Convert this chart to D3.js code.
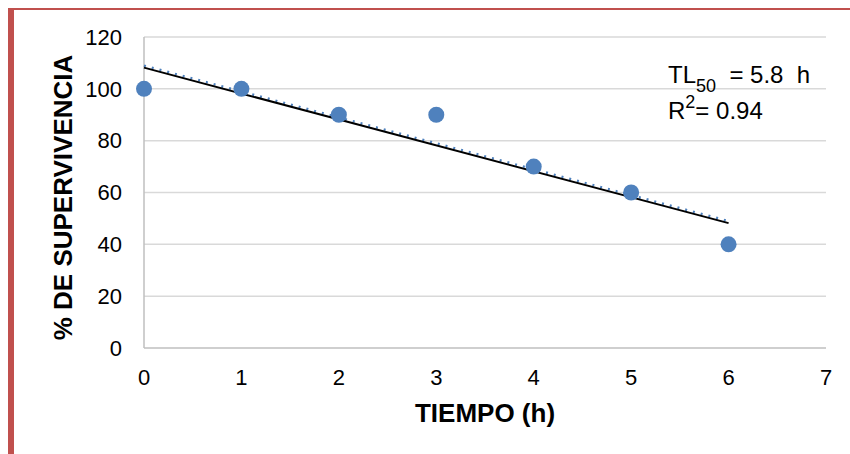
<!DOCTYPE html>
<html>
<head>
<meta charset="utf-8">
<script src="https://cdn.jsdelivr.net/npm/d3@7"></script>
<style>
  body { margin: 0; background: #fff; }
  text { font-family: "Liberation Sans", Arial, sans-serif; fill: #000; white-space: pre; }
</style>
</head>
<body>
<svg width="850" height="454"></svg>
<script>
// data
var tiempo = [0, 1, 2, 3, 4, 5, 6];
var supervivencia = [100, 100, 90, 90, 70, 60, 40];
var yTicks = [0, 20, 40, 60, 80, 100, 120];
var xTicks = [0, 1, 2, 3, 4, 5, 6, 7];
// linear trend (y = -10x + 108.57)
var trendX = [0, 6];
var trendY = [108.57, 48.57];

var margin = {top: 37, right: 24, bottom: 106, left: 144},
    width = 850 - margin.left - margin.right,
    height = 454 - margin.top - margin.bottom;

var svg = d3.select("svg");

// frame (red, top and left)
svg.append("line")
    .attr("x1", 8).attr("x2", 850)
    .attr("y1", 9).attr("y2", 9)
    .attr("stroke", "#c0504d").attr("stroke-width", 2);
svg.append("line")
    .attr("x1", 11).attr("x2", 11)
    .attr("y1", 8).attr("y2", 454)
    .attr("stroke", "#c0504d").attr("stroke-width", 6);

var g = svg.append("g")
    .attr("transform", "translate(" + margin.left + "," + margin.top + ")");

var x = d3.scaleLinear().domain([0, 7]).range([0, width]);
var y = d3.scaleLinear().domain([0, 120]).range([height, 0]);

// horizontal gridlines
g.selectAll(".grid")
    .data(yTicks.filter(function(d) { return d > 0; }))
  .enter().append("line")
    .attr("x1", 0).attr("x2", width)
    .attr("y1", function(d) { return y(d); })
    .attr("y2", function(d) { return y(d); })
    .attr("stroke", "#d9d9d9").attr("stroke-width", 1.5);

// axes lines
g.append("line")
    .attr("x1", 0).attr("x2", 0).attr("y1", 0).attr("y2", height)
    .attr("stroke", "#bfbfbf").attr("stroke-width", 1.5);
g.append("line")
    .attr("x1", 0).attr("x2", width).attr("y1", height).attr("y2", height)
    .attr("stroke", "#bfbfbf").attr("stroke-width", 1.5);

// tick labels
g.selectAll(".ylab")
    .data(yTicks)
  .enter().append("text")
    .attr("x", -22)
    .attr("y", function(d) { return y(d); })
    .attr("dy", "0.35em")
    .attr("text-anchor", "end")
    .style("font-size", "22px")
    .text(function(d) { return d; });

g.selectAll(".xlab")
    .data(xTicks)
  .enter().append("text")
    .attr("x", function(d) { return x(d); })
    .attr("y", height + 29)
    .attr("dy", "0.35em")
    .attr("text-anchor", "middle")
    .style("font-size", "22px")
    .text(function(d) { return d; });

// trend lines
g.append("line")
    .attr("x1", x(trendX[0])).attr("x2", x(trendX[1]))
    .attr("y1", y(trendY[0]) - 1).attr("y2", y(trendY[1]) - 1)
    .attr("stroke", "#4f81bd").attr("stroke-width", 2.5)
    .attr("stroke-dasharray", "2,6");
g.append("line")
    .attr("x1", x(trendX[0])).attr("x2", x(trendX[1]))
    .attr("y1", y(trendY[0]) + 1).attr("y2", y(trendY[1]) + 1)
    .attr("stroke", "#000").attr("stroke-width", 2);

// points
g.selectAll(".pt")
    .data(supervivencia)
  .enter().append("circle")
    .attr("cx", function(d, i) { return x(tiempo[i]); })
    .attr("cy", function(d) { return y(d); })
    .attr("r", 8)
    .attr("fill", "#4f81bd");

// annotation
var ann = g.append("text")
    .attr("x", 524).attr("y", 46)
    .style("font-size", "24px");
ann.append("tspan").text("TL");
ann.append("tspan").attr("dy", 9).style("font-size", "18px").text("50");
ann.append("tspan").attr("dy", -9).text("  = 5.8  h");

var ann2 = g.append("text")
    .attr("x", 524).attr("y", 82)
    .style("font-size", "24px");
ann2.append("tspan").text("R");
ann2.append("tspan").attr("dy", -11).style("font-size", "18px").text("2");
ann2.append("tspan").attr("dy", 11).text("= 0.94");

// axis titles
svg.append("text")
    .attr("transform", "translate(72," + (margin.top + height / 2 + 5) + ") rotate(-90)")
    .attr("text-anchor", "middle")
    .style("font-size", "26px").style("font-weight", "bold")
    .text("% DE SUPERVIVENCIA");

svg.append("text")
    .attr("x", 485).attr("y", 422)
    .attr("text-anchor", "middle")
    .style("font-size", "26px").style("font-weight", "bold")
    .text("TIEMPO (h)");
</script>
</body>
</html>
